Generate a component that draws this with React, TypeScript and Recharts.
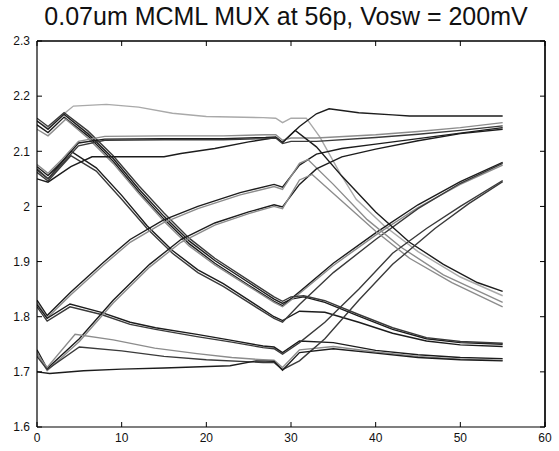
import React from 'react';
import { LineChart, Line, XAxis, YAxis, ReferenceLine } from 'recharts';

const chartTitle = '0.07um MCML MUX at 56p, Vosw = 200mV';
const xTicks = [0, 10, 20, 30, 40, 50, 60];
const yTicks = [1.6, 1.7, 1.8, 1.9, 2.0, 2.1, 2.2, 2.3];
const xDomain = [0, 60];
const yDomain = [1.6, 2.3];

// Each trace: [time, voltage] points
const trace1 = [[0,2.155],[1.3,2.142],[2.7,2.162],[4.3,2.182],[8.2,2.185],[12,2.18],[16,2.169],[20,2.163],[26.7,2.161],[28.2,2.16],[29,2.152],[30,2.16],[31.8,2.16],[33.4,2.126],[35.8,2.06],[37.7,2.013],[41,1.965],[45,1.918],[50,1.872],[55,1.838]];
const trace2 = [[0,2.155],[1.3,2.14],[3.2,2.167],[6,2.132],[9,2.087],[12,2.032],[15,1.982],[18,1.937],[21,1.902],[25,1.862],[28,1.832],[29,1.824],[30,1.832],[31.5,1.836],[34,1.826],[38,1.801],[42,1.777],[46,1.76],[50,1.753],[55,1.75]];
const trace3 = [[0,2.148],[1.3,2.134],[3.2,2.162],[6,2.128],[9,2.082],[12,2.027],[15,1.977],[18,1.932],[21,1.897],[25,1.857],[28,1.828],[29,1.82],[31,1.845],[35,1.897],[40,1.952],[45,2.003],[50,2.045],[55,2.08]];
const trace4 = [[0,2.14],[1.3,2.128],[3.4,2.158],[6,2.124],[9,2.078],[12,2.024],[15,1.973],[18,1.928],[21,1.894],[25,1.855],[28,1.826],[29,1.818],[31,1.842],[35,1.893],[40,1.948],[45,1.998],[50,2.04],[55,2.075]];
const trace5 = [[0,2.16],[1.3,2.145],[3.2,2.17],[6,2.137],[9,2.092],[12,2.038],[15,1.988],[18,1.942],[21,1.906],[25,1.866],[28,1.836],[29,1.828],[30,1.836],[31.5,1.838],[34,1.829],[38,1.804],[42,1.78],[46,1.762],[50,1.755],[55,1.752]];
const trace6 = [[0,2.068],[1.3,2.05],[4,2.1],[7,2.07],[10,2.02],[13,1.965],[16,1.92],[19,1.885],[22,1.86],[26,1.82],[28,1.8],[29,1.793],[31,1.81],[34,1.808],[38,1.79],[42,1.77],[46,1.756],[50,1.749],[55,1.746]];
const trace7 = [[0,2.062],[1.3,2.046],[4,2.092],[7,2.064],[10,2.013],[13,1.96],[16,1.915],[19,1.88],[22,1.855],[26,1.816],[28,1.797],[29,1.79],[31,1.822],[35,1.88],[40,1.94],[45,1.996],[50,2.042],[55,2.078]];
const trace8 = [[0,2.072],[1.3,2.056],[3,2.082],[4.9,2.115],[8,2.122],[15,2.123],[22,2.123],[27,2.125],[28.2,2.126],[29,2.116],[31,2.145],[33,2.168],[34.5,2.177],[38,2.17],[42,2.166],[44,2.164],[55,2.164]];
const trace9 = [[0,2.076],[1.3,2.06],[3,2.086],[4.9,2.118],[8,2.127],[15,2.128],[22,2.128],[27,2.13],[28.2,2.13],[29,2.12],[30,2.124],[33,2.124],[40,2.13],[45,2.136],[50,2.143],[55,2.152]];
const trace10 = [[0,2.05],[1.3,2.044],[4,2.072],[6.5,2.09],[15,2.09],[17,2.096],[21,2.105],[25,2.117],[28.2,2.125],[29,2.116],[30.5,2.138],[33,2.108],[36,2.055],[40,1.99],[44,1.935],[48,1.895],[52,1.862],[55,1.846]];
const trace11 = [[0,1.83],[1.2,1.802],[4,1.845],[7.8,1.898],[11,1.94],[14.9,1.975],[19,2.0],[24,2.025],[28,2.04],[29,2.035],[31,2.075],[33,2.095],[36,2.105],[40,2.113],[45,2.123],[50,2.133],[55,2.143]];
const trace12 = [[0,1.826],[1.2,1.798],[4,1.84],[7.8,1.893],[11,1.935],[14.9,1.97],[19,1.996],[24,2.021],[28,2.036],[29,2.031],[31,2.078],[32,2.085],[35,2.04],[39,1.976],[43,1.926],[48,1.876],[55,1.826]];
const trace13 = [[0,1.822],[1.2,1.797],[3.9,1.823],[7.6,1.808],[11,1.79],[14,1.78],[18.9,1.768],[23,1.757],[26.7,1.747],[28,1.745],[29,1.735],[31,1.756],[35,1.753],[40,1.739],[45,1.731],[50,1.726],[55,1.724]];
const trace14 = [[0,1.818],[1.2,1.792],[3.9,1.818],[7.6,1.804],[11,1.786],[14,1.777],[18.9,1.764],[23,1.754],[26.7,1.744],[28,1.742],[29,1.732],[31,1.753],[34,1.79],[38,1.85],[42,1.915],[46,1.96],[50,2.0],[55,2.047]];
const trace15 = [[0,1.74],[1.2,1.706],[5,1.76],[9,1.83],[13.3,1.895],[17,1.94],[21,1.97],[25,1.99],[28,2.003],[29,1.999],[31,2.04],[33,2.068],[36,2.09],[40,2.104],[45,2.119],[50,2.132],[55,2.14]];
const trace16 = [[0,1.736],[1.2,1.702],[5,1.755],[9,1.825],[13.3,1.89],[17,1.935],[21,1.966],[25,1.987],[28,2.0],[29,1.996],[31,2.048],[32.5,2.058],[36,2.01],[40,1.955],[44,1.906],[49,1.862],[55,1.818]];
const trace17 = [[0,1.732],[1.2,1.708],[4.5,1.768],[9,1.758],[13.9,1.743],[18.9,1.733],[23,1.726],[26.7,1.722],[28,1.721],[29,1.708],[31,1.74],[35,1.746],[40,1.736],[45,1.728],[50,1.723],[55,1.721]];
const trace18 = [[0,1.728],[1.2,1.704],[5,1.745],[10,1.738],[15,1.728],[20,1.722],[26.7,1.717],[28,1.717],[29,1.704],[31,1.72],[34,1.76],[38,1.83],[42,1.895],[47,1.96],[51,2.005],[55,2.045]];
const trace19 = [[0,1.7],[1.5,1.697],[5.5,1.702],[10,1.705],[15,1.707],[22.8,1.711],[25.9,1.72],[28,1.719],[29,1.703],[31,1.735],[35,1.742],[40,1.734],[45,1.726],[50,1.722],[55,1.72]];
const trace20 = [[0,2.066],[1.3,2.05],[3,2.078],[4.9,2.11],[8,2.12],[15,2.121],[22,2.121],[27,2.123],[28.2,2.124],[29,2.114],[30,2.118],[33,2.118],[40,2.125],[45,2.131],[50,2.138],[55,2.146]];

const DARK = '#1c1c1c';
const MID = '#3a3a3a';
const GRAY = '#8c8c8c';
const LIGHT = '#a9a9a9';

const series = [
  { pts: trace1, color: LIGHT },
  { pts: trace2, color: DARK },
  { pts: trace3, color: DARK },
  { pts: trace4, color: GRAY },
  { pts: trace5, color: MID },
  { pts: trace6, color: DARK },
  { pts: trace7, color: MID },
  { pts: trace8, color: DARK },
  { pts: trace9, color: GRAY },
  { pts: trace10, color: DARK },
  { pts: trace11, color: DARK },
  { pts: trace12, color: GRAY },
  { pts: trace13, color: DARK },
  { pts: trace14, color: MID },
  { pts: trace15, color: DARK },
  { pts: trace16, color: GRAY },
  { pts: trace17, color: GRAY },
  { pts: trace18, color: MID },
  { pts: trace19, color: DARK },
  { pts: trace20, color: MID },
];

const FONT = '"Liberation Sans", Arial, Helvetica, sans-serif';
const fmtY = (v: number) => String(Number(v.toFixed(1)));
const axisStroke = { stroke: '#000', strokeWidth: 1.2 };
const toRows = (pts: number[][]) => pts.map(([x, y]) => ({ x, y }));

const W = 559;
const H = 451;
const MARGIN = { top: 41, right: 14, bottom: 4, left: 7 };
const Y_AXIS_W = 30;
const X_AXIS_H = 20;
const BOX = {
  left: MARGIN.left + Y_AXIS_W,
  top: MARGIN.top,
  right: W - MARGIN.right,
  bottom: H - MARGIN.bottom - X_AXIS_H,
};
const TICK = 5;

function Frame() {
  const bw = BOX.right - BOX.left;
  const bh = BOX.bottom - BOX.top;
  const px = (v: number) => BOX.left + ((v - xDomain[0]) / (xDomain[1] - xDomain[0])) * bw;
  const py = (v: number) => BOX.bottom - ((v - yDomain[0]) / (yDomain[1] - yDomain[0])) * bh;
  return (
    <svg width={W} height={H} style={{ position: 'absolute', left: 0, top: 0, pointerEvents: 'none', zIndex: 5 }}>
      <line x1={BOX.left} y1={BOX.top} x2={BOX.right} y2={BOX.top} stroke="#000" strokeWidth={1.2} />
      <line x1={BOX.right} y1={BOX.top} x2={BOX.right} y2={BOX.bottom} stroke="#000" strokeWidth={1.2} />
      {xTicks.map((t) => (
        <g key={'x' + t}>
          <line x1={px(t)} y1={BOX.bottom} x2={px(t)} y2={BOX.bottom - TICK} stroke="#000" />
          <line x1={px(t)} y1={BOX.top} x2={px(t)} y2={BOX.top + TICK} stroke="#000" />
        </g>
      ))}
      {yTicks.map((t) => (
        <g key={'y' + t}>
          <line x1={BOX.left} y1={py(t)} x2={BOX.left + TICK} y2={py(t)} stroke="#000" />
          <line x1={BOX.right} y1={py(t)} x2={BOX.right - TICK} y2={py(t)} stroke="#000" />
        </g>
      ))}
    </svg>
  );
}

export default function App() {
  return (
    <div style={{ position: 'absolute', left: 0, top: 0, width: W, height: H, background: '#fff' }}>
      <svg width={W} height={40} style={{ position: 'absolute', left: 0, top: 0 }}>
        <text x={286} y={25} textAnchor="middle" fontFamily={FONT} fontSize={25} fill="#111">
          {chartTitle}
        </text>
      </svg>
      <div style={{ position: 'absolute', left: 0, top: 0 }}>
        <LineChart width={W} height={H} margin={MARGIN}>
          <XAxis
            type="number"
            dataKey="x"
            domain={xDomain}
            ticks={xTicks}
            allowDataOverflow
            height={X_AXIS_H}
            tickLine={false}
            tickSize={6}
            tickMargin={0}
            axisLine={axisStroke}
            tick={{ fontSize: 12, fill: '#111', fontFamily: FONT }}
          />
          <YAxis
            type="number"
            dataKey="y"
            domain={yDomain}
            ticks={yTicks}
            allowDataOverflow
            width={Y_AXIS_W}
            tickLine={false}
            tickSize={6}
            tickMargin={1}
            tickFormatter={fmtY}
            axisLine={axisStroke}
            tick={{ fontSize: 12, fill: '#111', fontFamily: FONT }}
          />
          <ReferenceLine y={2.3} stroke="#000" strokeWidth={1.2} />
          <ReferenceLine x={60} stroke="#000" strokeWidth={1.2} />
          {series.map((s, i) => (
            <Line
              key={i}
              data={toRows(s.pts)}
              dataKey="y"
              type="linear"
              stroke={s.color}
              strokeWidth={1.4}
              dot={false}
              activeDot={false}
              isAnimationActive={false}
            />
          ))}
        </LineChart>
      </div>
      <Frame />
    </div>
  );
}
